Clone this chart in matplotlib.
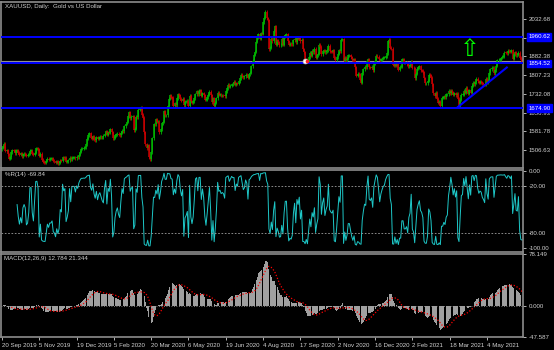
import numpy as np
import pandas as pd
import matplotlib
matplotlib.use("Agg")
import matplotlib.pyplot as plt
from matplotlib.transforms import blended_transform_factory

plt.rcParams['font.family'] = ['Liberation Sans', 'DejaVu Sans']
plt.rcParams['axes.unicode_minus'] = False

# XAUUSD daily closes, 20 Sep 2019 .. 15 Jun 2021 (one line per week, Good Fridays/holidays skipped)
closes = [
    1516,
    1522, 1531, 1504, 1505, 1489,
    1472, 1478, 1498, 1505, 1504,
    1494, 1505, 1506, 1495, 1488,
    1494, 1481, 1490, 1492, 1490,
    1484, 1487, 1492, 1504, 1504,
    1492, 1488, 1496, 1513, 1514,
    1510, 1484, 1491, 1468, 1459,
    1456, 1455, 1463, 1471, 1468,
    1472, 1472, 1474, 1464, 1462,
    1456, 1461, 1454, 1456, 1464,
    1463, 1477, 1474, 1475, 1460,
    1462, 1465, 1475, 1469, 1476,
    1476, 1476, 1474, 1479, 1478,
    1487, 1499, 1511, 1511,
    1515, 1517, 1529, 1552,
    1566, 1574, 1556, 1552, 1562,
    1548, 1545, 1557, 1552, 1557,
    1560, 1557, 1558, 1563, 1571,
    1582, 1567, 1577, 1575, 1589,
    1577, 1553, 1556, 1566, 1570,
    1572, 1568, 1566, 1576, 1584,
    1581, 1601, 1611, 1620, 1643,
    1658, 1634, 1641, 1642, 1586,
    1591, 1640, 1638, 1669, 1673,
    1679, 1649, 1636, 1577, 1530,
    1514, 1526, 1477, 1470, 1498,
    1553, 1610, 1609, 1630, 1619,
    1621, 1577, 1590, 1613, 1620,
    1662, 1646, 1646, 1683,
    1712, 1727, 1717, 1716, 1683,
    1695, 1686, 1714, 1730, 1727,
    1713, 1705, 1713, 1686, 1700,
    1702, 1705, 1685, 1725, 1702,
    1697, 1702, 1715, 1731, 1743,
    1731, 1745, 1746, 1725, 1735,
    1727, 1709, 1709, 1718, 1728,
    1740, 1727, 1699, 1714, 1684,
    1697, 1715, 1736, 1728, 1729,
    1726, 1727, 1726, 1722, 1743,
    1755, 1768, 1761, 1764, 1771,
    1772, 1781, 1769, 1775, 1773,
    1783, 1795, 1809, 1803, 1799,
    1802, 1808, 1806, 1796, 1810,
    1817, 1842, 1865, 1889, 1902,
    1941, 1957, 1971, 1954, 1975,
    1974, 2019, 2038, 2062, 2035,
    2028, 1911, 1918, 1954, 1944,
    1985, 2003, 1929, 1947, 1940,
    1928, 1929, 1953, 1930, 1964,
    1968, 1971, 1944, 1930, 1933,
    1932, 1931, 1947, 1954, 1940,
    1957, 1954, 1959, 1944, 1950,
    1912, 1900, 1863, 1869, 1862,
    1880, 1897, 1886, 1906, 1900,
    1913, 1878, 1887, 1894, 1930,
    1922, 1891, 1903, 1908, 1899,
    1904, 1907, 1925, 1904, 1902,
    1901, 1908, 1878, 1868, 1879,
    1894, 1908, 1903, 1949, 1951,
    1862, 1877, 1866, 1873, 1888,
    1888, 1879, 1871, 1866, 1872,
    1838, 1805, 1812, 1811, 1788,
    1777, 1815, 1830, 1841, 1839,
    1862, 1871, 1839, 1837, 1840,
    1827, 1855, 1864, 1885, 1881,
    1872, 1863, 1870, 1874,
    1877, 1878, 1883, 1895,
    1944, 1950, 1918, 1913, 1849,
    1844, 1855, 1845, 1851, 1829,
    1840, 1840, 1870, 1870, 1856,
    1856, 1851, 1842, 1844, 1847,
    1860, 1836, 1834, 1794, 1813,
    1832, 1838, 1842, 1826, 1824,
    1819, 1795, 1775, 1775, 1784,
    1809, 1806, 1797, 1771, 1734,
    1723, 1737, 1712, 1697, 1700,
    1683, 1716, 1716, 1723, 1719,
    1731, 1731, 1745, 1735, 1745,
    1738, 1728, 1734, 1726, 1732,
    1712, 1685, 1708, 1728,
    1729, 1744, 1737, 1756, 1744,
    1732, 1747, 1736, 1764, 1777,
    1770, 1779, 1793, 1782, 1777,
    1780, 1779, 1774, 1772, 1769,
    1792, 1779, 1784, 1815, 1831,
    1836, 1836, 1815, 1826, 1844,
    1867, 1869, 1869, 1876, 1881,
    1881, 1898, 1897, 1895, 1905,
    1904, 1901, 1908, 1872, 1891,
    1899, 1888, 1889, 1898, 1877,
    1866, 1862,
]
first_open = 1510

date_labels = ["20 Sep 2019", "5 Nov 2019", "19 Dec 2019", "5 Feb 2020", "20 Mar 2020",
               "6 May 2020", "19 Jun 2020", "4 Aug 2020", "17 Sep 2020", "2 Nov 2020",
               "16 Dec 2020", "2 Feb 2021", "18 Mar 2021", "4 May 2021"]
LABEL_STEP = 32  # bars between time labels

price_ticks = [2032.68, 1957.53, 1882.38, 1807.23, 1732.08, 1656.93, 1581.78, 1506.63]
level_lines = [1960.62, 1854.52, 1674.90]
trend_x = [391, 433]
trend_y = [1679, 1838]
arrow_bar, arrow_price = 401, 1914
mark_bar, mark_price = 260, 1864

wpr_ticks = [0, -20, -80, -100]
macd_ticks = [78.149, 0.0, -47.587]

WICK = 6  # wick extension in $, style only
FS = 4.4

# ---- series ----
c = np.array(closes, dtype=float)
o = np.concatenate([[first_open], c[:-1]])
hi = np.maximum(o, c) + WICK
lo = np.minimum(o, c) - WICK
x = np.arange(len(c))

s = pd.Series(c)
hh = pd.Series(hi).rolling(14).max()
ll = pd.Series(lo).rolling(14).min()
wpr = -100 * (hh - s) / (hh - ll)
macd = s.ewm(span=12, adjust=False).mean() - s.ewm(span=26, adjust=False).mean()
signal = macd.rolling(9).mean()

# ---- figure layout (pixel based, 554x350) ----
W, H = 554, 350
fig = plt.figure(figsize=(W / 100, H / 100), dpi=100, facecolor='black')

def px_axes(top, bottom, left=1, right=523):
    return fig.add_axes([left / W, 1 - bottom / H, (right - left) / W, (bottom - top) / H])

ax = px_axes(2, 168)
ax2 = px_axes(170, 252)
ax3 = px_axes(254, 337)

GRAY = '#8c8c8c'
TXT = '#d0d0d0'
xmin, xmax = -0.8, -0.8 + 522 / 1.166

for a in (ax, ax2, ax3):
    a.set_facecolor('black')
    for sp in a.spines.values():
        sp.set_color(GRAY)
        sp.set_linewidth(1.2)
    a.set_xlim(xmin, xmax)
    a.yaxis.tick_right()
    a.tick_params(axis='y', colors=TXT, labelsize=FS, length=2.5, width=0.6, pad=1.5)
    a.tick_params(axis='x', bottom=False, labelbottom=False)

# ---- candles ----
bull = c >= o
col = np.where(bull, '#00b800', '#c80000')
ax.vlines(x, lo, hi, colors=col, lw=0.6)
body_lo = np.minimum(o, c)
body_hi = np.maximum(o, c)
body_hi = np.where(body_hi - body_lo < 1.5, body_lo + 1.5, body_hi)
ax.vlines(x, body_lo, body_hi, colors=col, lw=1.1)

ax.set_ylim(1434.3, 2100.9)
ax.set_yticks(price_ticks)
ax.set_yticklabels([f"{v:.2f}" for v in price_ticks])

ax.axhline(c[-1], color='#909090', lw=0.8, zorder=1)
for lv in level_lines:
    ax.axhline(lv, color='#0000ff', lw=1.4, zorder=3)
tr = blended_transform_factory(ax.transAxes, ax.transData)
for lv in level_lines:
    ax.text(1.01, lv, f"{lv:.2f}", transform=tr, color='white', fontsize=FS,
            va='center', ha='left', clip_on=False, zorder=5,
            bbox=dict(facecolor='#0000ff', edgecolor='#0000ff', pad=0.8))

ax.plot(trend_x, trend_y, color='#0000ff', lw=1.5, zorder=3)
ax.text(arrow_bar, arrow_price, '\u21e7', color='#00ff00', fontsize=17,
        ha='center', va='center', family='DejaVu Sans', zorder=4)
ax.plot([mark_bar], [mark_price], 'o', ms=3.5, mfc='white', mec='#c0c0c0', mew=0.5, zorder=4)
ax.plot([mark_bar + 1.5], [mark_price], 'o', ms=1.6, color='#ff2020', zorder=5)

ax.text(4 / 522, 0.985, "XAUUSD, Daily:  Gold vs US Dollar", transform=ax.transAxes,
        color=TXT, fontsize=FS, va='top', ha='left')

# ---- Williams %R ----
ax2.plot(x, wpr, color='#1ec8c8', lw=0.7)
for lv in (-20, -80):
    ax2.axhline(lv, color='#a0a0a0', lw=0.6, ls=(0, (2, 2)))
ax2.set_ylim(-105.2, 1.3)
ax2.set_yticks(wpr_ticks)
ax2.set_yticklabels([f"{v:.2f}" for v in wpr_ticks])
ax2.text(4 / 522, 0.97, "%R(14) -69.84", transform=ax2.transAxes,
         color=TXT, fontsize=FS, va='top', ha='left')

# ---- MACD ----
ax3.bar(x, macd, width=0.8, color='#a0a0a0', linewidth=0)
ax3.plot(x, signal, color='#ff0000', lw=0.9, ls=(0, (1, 1.5)))
ax3.axhline(0, color='#a0a0a0', lw=0.6, ls=(0, (1, 2)))
ax3.set_ylim(macd_ticks[2], macd_ticks[0])
ax3.set_yticks(macd_ticks)
ax3.set_yticklabels([f"{v:.3f}" for v in macd_ticks])
ax3.text(3 / 522, 0.97, "MACD(12,26,9) 12.784 21.344", transform=ax3.transAxes,
         color=TXT, fontsize=FS, va='top', ha='left')

ax3.set_xticks([i * LABEL_STEP for i in range(len(date_labels))])
ax3.set_xticklabels(date_labels)
ax3.tick_params(axis='x', bottom=True, labelbottom=True, colors=TXT, labelsize=FS,
                length=2.5, width=0.6, pad=1.5)
for t in ax3.get_xticklabels():
    t.set_horizontalalignment('left')

fig.savefig('out.png', dpi=100, facecolor='black')
